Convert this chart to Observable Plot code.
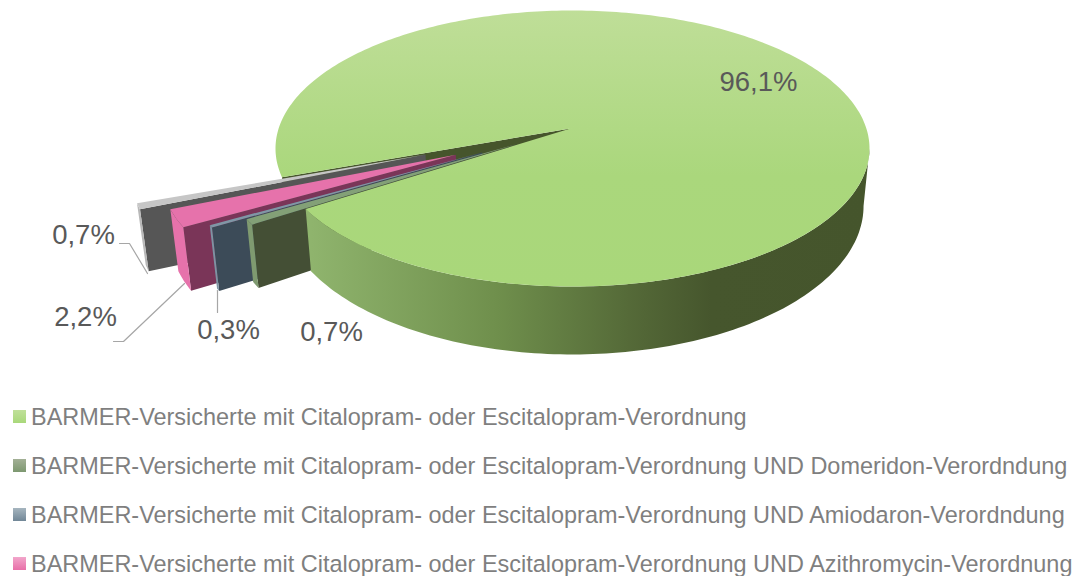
<!DOCTYPE html>
<html><head><meta charset="utf-8">
<script src="https://cdn.jsdelivr.net/npm/d3@7"></script>
<script src="https://cdn.jsdelivr.net/npm/@observablehq/plot@0.6"></script>
<style>
html,body{margin:0;padding:0;background:#fff;overflow:hidden}
#chart svg{display:block}
#legend{margin-top:12.5px;font-family:"Liberation Sans",Arial,sans-serif;font-size:23.46px;color:#7f7f7f}
.row{height:24px;line-height:24px;margin-bottom:25px;position:relative;white-space:nowrap;padding-left:31px}
.row:last-child{margin-bottom:0}
.sw{position:absolute;left:13px;top:5.5px;width:13px;height:13px}
</style></head><body>
<div id="chart"></div><div id="legend"></div>
<script>
const categories = [
  "BARMER-Versicherte mit Citalopram- oder Escitalopram-Verordnung",
  "BARMER-Versicherte mit Citalopram- oder Escitalopram-Verordnung UND Domeridon-Verordndung",
  "BARMER-Versicherte mit Citalopram- oder Escitalopram-Verordnung UND Amiodaron-Verordndung",
  "BARMER-Versicherte mit Citalopram- oder Escitalopram-Verordnung UND Azithromycin-Verordnung"
];
const values = [96.1, 0.7, 0.3, 2.2, 0.7];
const valueLabels = ["96,1%", "0,7%", "0,3%", "2,2%", "0,7%"];
const explode = [0, 0.2, 0.325, 0.41, 0.505];
const topColors = ["url(#gTop)", "#83a077", "#7f97a6", "#e672ab", "#c6c6c6"];
const wallColors = ["#46552c", "#444f35", "#3c4b58", "#7a3558", "#565656"];
const rimColors = ["url(#gSide)", "#7f9a70", "#7d94a3", "#e672ab", "#b8b8b8"];
const swatches = [["#c0e09a","#a9d87a"],["#a3b096","#7d9870"],["#a6b5bf","#718797"],["#f2a6cb","#e86fa8"]];
const labelX = [758, 331, 228, 85, 83];
const labelY = [82, 332, 330, 317, 235];
const leaders = [
  {i:4, pts:[[119,243],[129,243],[147,273]]},
  {i:3, pts:[[113,341],[123,341],[184,283]]},
  {i:2, pts:[[217,290],[217,312]]}
];

// ellipse geometry of the pie
const cx = 572, cy = 148, rx = 297, ry = 138, apexX = 570, apexY = 128, startDeg = 168;
const rad = d => d * Math.PI / 180;
const edge = t => [cx + rx * Math.cos(rad(t)), cy + ry * Math.sin(rad(t))];
const drop = ([x, y]) => [cx + (x - cx) * 0.98, y + 62 + (y - 208) * 0.076];
const arc = (a, b, n) => d3.range(n + 1).map(i => a + (b - a) * i / n);

let acc = startDeg;
const slices = values.map((v, i) => {
  const a0 = acc, a1 = acc + v * 3.6; acc = a1;
  const mid = edge((a0 + a1) / 2);
  const k = explode[i];
  const off = [(mid[0] - apexX) * k, (mid[1] - apexY) * k];
  const shift = p => [p[0] + off[0], p[1] + off[1]];
  return {a0, a1, apex: shift([apexX, apexY]), at: t => shift(edge(t))};
});

const poly = (pts, fill) => Plot.line(pts, {x: d => d[0], y: d => d[1], fill, stroke: "none", curve: "linear"});
const marks = [];
const m = slices[0];

// inner wall of the big slice, seen through the gap
marks.push(poly([m.apex, m.at(m.a0), drop(m.at(m.a0)), drop(m.apex)], wallColors[0]));

// the exploded slices, back to front
for (let i = slices.length - 1; i >= 1; i--) {
  const s = slices[i];
  const ts = arc(s.a0, s.a1, 6);
  const lower = s.at(s.a0);
  marks.push(poly([s.apex, lower, drop(lower), drop(s.apex)], wallColors[i]));
  const top = ts.map(s.at);
  marks.push(poly([...top, ...top.slice().reverse().map(drop)], rimColors[i]));
  marks.push(poly([s.apex, ...top], topColors[i]));
}

// front side and top of the big slice
const frontArc = arc(360, m.a1, 120).map(m.at);
marks.push(poly([...frontArc, ...frontArc.slice().reverse().map(drop)], rimColors[0]));
marks.push(poly([m.apex, ...arc(m.a0, m.a1, 360).map(m.at)], topColors[0]));

leaders.forEach(l => marks.push(Plot.line(l.pts, {x: d => d[0], y: d => d[1], stroke: "#a6a6a6", strokeWidth: 1.2})));

marks.push(Plot.text(valueLabels, {
  x: (d, i) => labelX[i], y: (d, i) => labelY[i], text: d => d,
  fontSize: 27.5, fill: "#595959", fontFamily: "Liberation Sans, Arial, sans-serif"
}));

const plot = Plot.plot({
  width: 1077, height: 392, margin: 0,
  x: {domain: [0, 1077], range: [0, 1077], axis: null},
  y: {domain: [0, 392], range: [0, 392], axis: null},
  style: {background: "transparent"},
  marks
});
const defs = d3.select(plot).insert("defs", ":first-child");
const grad = (id, x2, y2, stops) => {
  const g = defs.append("linearGradient").attr("id", id).attr("x1", 0).attr("y1", 0).attr("x2", x2).attr("y2", y2);
  stops.forEach(([o, c]) => g.append("stop").attr("offset", o).attr("stop-color", c));
};
grad("gTop", 0, 1, [[0, "#bfde98"], [0.6, "#aad77c"], [1, "#a9d77a"]]);
grad("gSide", 1, 0, [[0, "#90b56e"], [0.34, "#6f8f4c"], [0.6, "#526636"], [0.72, "#46562d"], [1, "#45552c"]]);
document.getElementById("chart").append(plot);

const legend = d3.select("#legend");
categories.forEach((c, i) => {
  const r = legend.append("div").attr("class", "row");
  r.append("span").attr("class", "sw").style("background", `linear-gradient(${swatches[i][0]},${swatches[i][1]})`);
  r.append("span").text(c);
});
</script>
</body></html>
